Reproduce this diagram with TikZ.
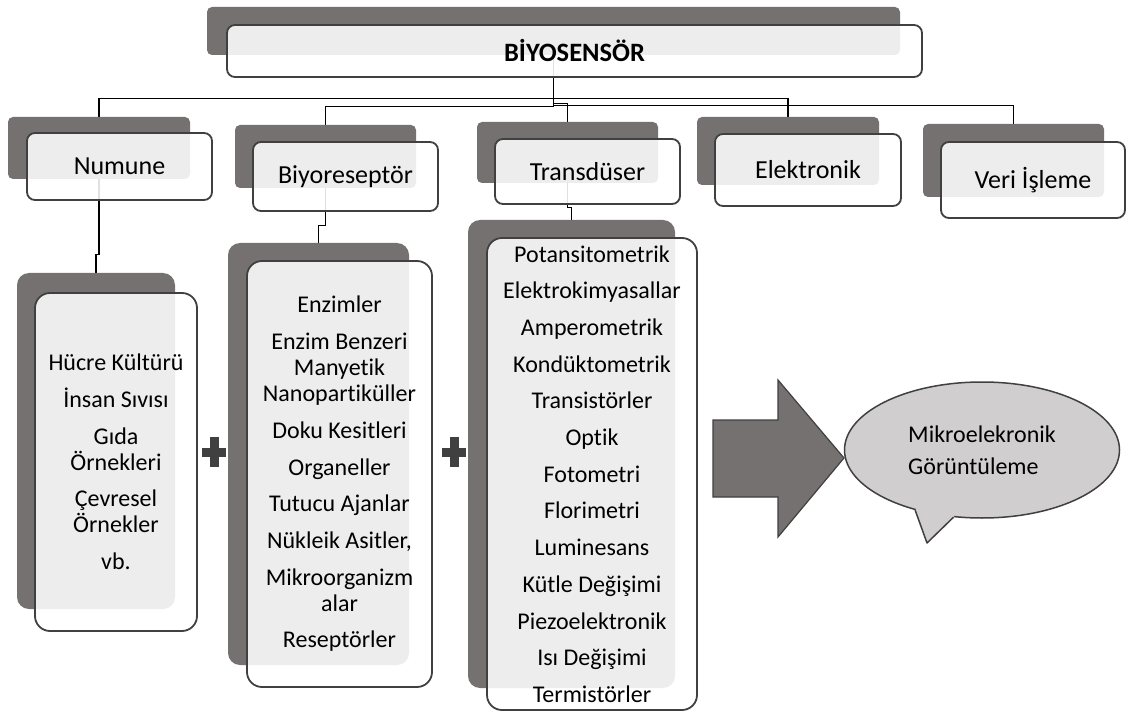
\documentclass[tikz,border=0pt]{standalone}
\usepackage{fontspec}
\setmainfont{Carlito}[Ligatures={NoCommon}]
\usetikzlibrary{shapes.geometric,calc}
\definecolor{backgray}{HTML}{767171}
\definecolor{edgegray}{HTML}{404040}
\definecolor{callfill}{HTML}{D0CECE}
\pgfdeclarelayer{bg}
\pgfsetlayers{bg,main}
\begin{document}
\begin{tikzpicture}[x=1pt,y=-1pt,
  back/.style={rectangle, rounded corners=5pt, fill=backgray, draw=none, inner sep=0pt},
  front/.style={rectangle, rounded corners=8pt, draw=edgegray, line width=1.8pt, fill=white, fill opacity=0.88, draw opacity=1, text opacity=1, inner sep=0pt, font=\fontsize{26}{30}\selectfont},
  listback/.style={back, rounded corners=12pt},
  listfront/.style={front, rounded corners=15pt, align=center, font=\fontsize{24}{26}\selectfont},
  conn/.style={draw=black, line width=1.3pt},
  plusbar/.style={fill=edgegray},
  bigarrow/.style={fill=backgray, draw=edgegray, line width=1.2pt, line join=miter},
  callout/.style={ellipse, draw=edgegray, line width=1.5pt, fill=callfill, inner sep=0pt, align=left, font=\fontsize{24}{32}\selectfont}
]
\useasboundingbox (0,0) rectangle (1127,711);
\begin{pgfonlayer}{bg}
\fill[white] (0,0) rectangle (1127,711);
\end{pgfonlayer}

% header
\node[back, minimum width=693pt, minimum height=48pt] (hb) at (553.5,31) {};
\node[front, minimum width=695pt, minimum height=52pt, font=\bfseries\fontsize{26.5}{30}\selectfont] (hf) at (574.5,51) {BİYOSENSÖR};

% second level
\node[back, minimum width=182pt, minimum height=62pt] (nb) at (99,148) {};
\node[front, minimum width=185pt, minimum height=67pt] (nf) at (119.5,166.5) {Numune};

\node[back, minimum width=181pt, minimum height=63pt] (bb) at (325.5,156.5) {};
\node[front, minimum width=185pt, minimum height=69pt] (bf) at (345.5,176.5) {Biyoreseptör};

\node[back, minimum width=181pt, minimum height=61pt] (tb) at (567.5,152.5) {};
\node[front, minimum width=185pt, minimum height=65pt] (tf) at (587.5,171.5) {Transdüser};

\node[back, minimum width=182pt, minimum height=68pt] (eb) at (788,151) {};
\node[front, minimum width=186pt, minimum height=72pt] (ef) at (808,170) {Elektronik};

\node[back, minimum width=181pt, minimum height=73pt] (vb) at (1013.5,160.5) {};
\node[front, minimum width=184pt, minimum height=76pt] (vf) at (1033,180) {Veri İşleme};

% lists
\node[listback, minimum width=158pt, minimum height=336pt] (slb) at (96,441) {};
\node[listfront, minimum width=162pt, minimum height=338pt] (slf) at (116,462)
  {Hücre Kültürü\\[10.7pt]İnsan Sıvısı\\[10.7pt]Gıda\\Örnekleri\\[10.7pt]Çevresel\\Örnekler\\[10.7pt]vb.};

\node[listback, minimum width=181pt, minimum height=422pt] (blb) at (318.5,454) {};
\node[listfront, minimum width=185pt, minimum height=426pt] (blf) at (339.5,474)
  {Enzimler\\[10.7pt]Enzim Benzeri\\Manyetik\\Nanopartiküller\\[10.7pt]Doku Kesitleri\\[10.7pt]Organeller\\[10.7pt]Tutucu Ajanlar\\[10.7pt]Nükleik Asitler,\\[10.7pt]Mikroorganizm\\alar\\[10.7pt]Reseptörler};

\node[listback, minimum width=207pt, minimum height=468pt] (tlb) at (571.5,454) {};
\node[listfront, minimum width=210pt, minimum height=472pt] (tlf) at (592,474)
  {Potansitometrik\\[10.7pt]Elektrokimyasallar\\[10.7pt]Amperometrik\\[10.7pt]Kondüktometrik\\[10.7pt]Transistörler\\[10.7pt]Optik\\[10.7pt]Fotometri\\[10.7pt]Florimetri\\[10.7pt]Luminesans\\[10.7pt]Kütle Değişimi\\[10.7pt]Piezoelektronik\\[10.7pt]Isı Değişimi\\[10.7pt]Termistörler};

% plus signs
\fill[plusbar] (214,452) ++(-12,-4.5) rectangle ++(24,9);
\fill[plusbar] (214,452) ++(-4.5,-15) rectangle ++(9,30);
\fill[plusbar] (454,452) ++(-12,-4.5) rectangle ++(24,9);
\fill[plusbar] (454,452) ++(-4.5,-15) rectangle ++(9,30);

% block arrow
\draw[bigarrow] (713,420) -- (778,420) -- (778,380) -- (844,458) -- (778,537) -- (778,497) -- (713,497) -- cycle;

% callout
\node[callout, minimum width=275pt, minimum height=136pt] (call) at (982,450) {Mikroelekronik\\Görüntüleme};
\coordinate (tip) at (927,543);
\fill[callfill] (call.222) -- (tip) -- (call.247) -- ($(call.247)!0.15!(call.center)$) -- ($(call.222)!0.15!(call.center)$) -- cycle;
\draw[edgegray, line width=1.5pt, line join=round] (call.222) -- (tip) -- (call.247);

% connectors
\begin{pgfonlayer}{bg}
\draw[conn] (hb.south) -- ++(0,43) -| (nb.north);
\draw[conn] (hb.south) -- ++(0,43) -| (eb.north);
\draw[conn] (hb.south) -- ++(0,51) -| (bb.north);
\draw[conn] (hb.south) -- ++(0,48) -| (tb.north);
\draw[conn] (hb.south) -- ++(0,50) -| (vb.north);
\draw[conn] (nb.south) -- ++(0,75) -| (slb.north);
\draw[conn] (bb.south) -- ++(0,37) -| (blb.north);
\draw[conn] (tb.south) -- ++(0,24) -| (tlb.north);
\end{pgfonlayer}
\end{tikzpicture}
\end{document}
